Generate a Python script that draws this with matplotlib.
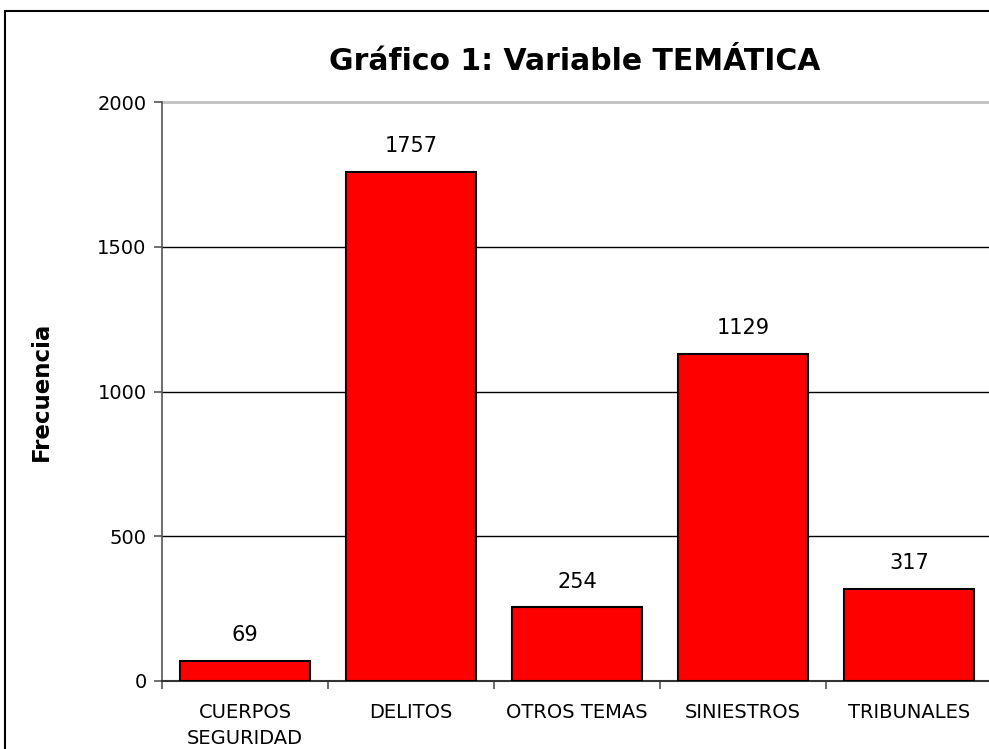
import matplotlib
matplotlib.use("Agg")
import matplotlib.pyplot as plt
from matplotlib.patches import Rectangle

categories = ["CUERPOS\nSEGURIDAD", "DELITOS", "OTROS TEMAS", "SINIESTROS", "TRIBUNALES"]
values = [69, 1757, 254, 1129, 317]
yticks = [0, 500, 1000, 1500, 2000]
title = "Gráfico 1: Variable TEMÁTICA"
ylabel = "Frecuencia"

plt.rcParams['font.family'] = ['DejaVu Sans']

fig = plt.figure(figsize=(9.89, 7.49), dpi=100)
W, H = 989, 749
# figure border (right and bottom edges fall outside the picture)
fig.patches.append(Rectangle((4.5 / W, -0.2), 1.2, 1.2 - 10.5 / H, transform=fig.transFigure,
                             fill=False, edgecolor='black', linewidth=1.5))

left, right, top, bottom = 162, 992, 102, 681
ax = fig.add_axes([left / W, 1 - bottom / H, (right - left) / W, (bottom - top) / H])

x = list(range(len(categories)))
ax.bar(x, values, width=0.78, color='#FF0000', edgecolor='black', linewidth=1.5, zorder=3)
for xi, v in zip(x, values):
    ax.text(xi, v + 55, str(v), ha='center', va='bottom', fontsize=15, zorder=4)

ax.set_xlim(-0.5, len(categories) - 0.5)
ax.set_ylim(0, 2000)
ax.set_yticks(yticks)
ax.set_yticklabels([str(t) for t in yticks], fontsize=14)
ax.set_xticks([i - 0.5 for i in range(len(categories) + 1)])
ax.set_xticklabels([])
ax.set_xticks(x, minor=True)
ax.set_xticklabels(categories, minor=True, fontsize=14, linespacing=1.45)
ax.tick_params(axis='x', which='minor', length=0, pad=16)
ax.tick_params(axis='x', which='major', length=6, width=1.2, color='#555555')
ax.tick_params(axis='y', length=6, width=1.2, color='#555555', pad=5)

for t in yticks[1:-1]:
    ax.axhline(t, color='black', linewidth=1.0, zorder=1)
ax.axhline(2000, color='#c0c0c0', linewidth=2.0, zorder=1, clip_on=False)

for s in ['top', 'right']:
    ax.spines[s].set_visible(False)
ax.spines['left'].set_color('#555555')
ax.spines['left'].set_linewidth(1.2)
ax.spines['bottom'].set_color('#333333')
ax.spines['bottom'].set_linewidth(1.5)

ax.set_ylabel(ylabel, fontsize=16.5, fontweight='bold', labelpad=32)
fig.text(575 / W, 1 - 62 / H, title, ha='center', va='center', fontsize=21.5, fontweight='bold')

fig.savefig("out.png", dpi=100)
